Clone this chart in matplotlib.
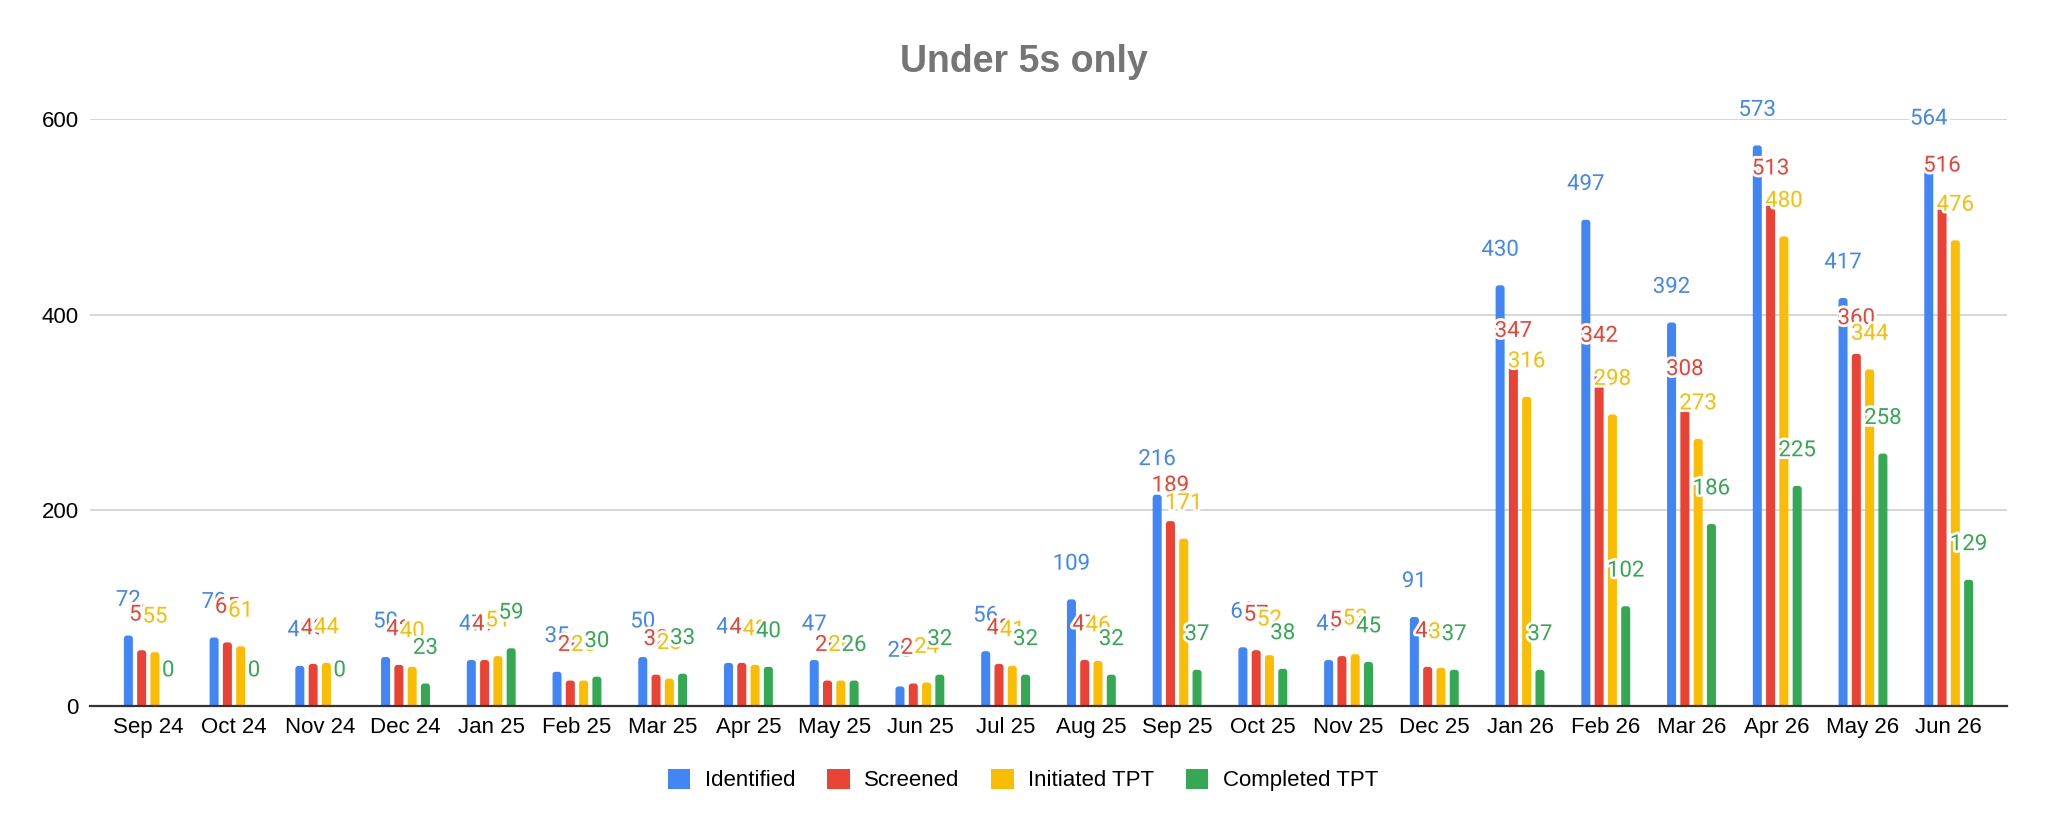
import matplotlib
matplotlib.use("Agg")
import matplotlib.pyplot as plt
import matplotlib.patheffects as pe
from matplotlib.patches import Patch, FancyBboxPatch
import numpy as np

months = ["Sep 24", "Oct 24", "Nov 24", "Dec 24", "Jan 25", "Feb 25", "Mar 25",
          "Apr 25", "May 25", "Jun 25", "Jul 25", "Aug 25", "Sep 25", "Oct 25",
          "Nov 25", "Dec 25", "Jan 26", "Feb 26", "Mar 26", "Apr 26", "May 26",
          "Jun 26"]
identified = [72, 70, 41, 50, 47, 35, 50, 44, 47, 20, 56, 109, 216, 60, 47, 91,
              430, 497, 392, 573, 417, 564]
screened = [57, 65, 43, 42, 47, 26, 32, 44, 26, 23, 43, 47, 189, 57, 51, 40,
            347, 342, 308, 513, 360, 516]
initiated = [55, 61, 44, 40, 51, 26, 28, 42, 26, 24, 41, 46, 171, 52, 53, 39,
             316, 298, 273, 480, 344, 476]
completed = [0, 0, 0, 23, 59, 30, 33, 40, 26, 32, 32, 32, 37, 38, 45, 37,
             37, 102, 186, 225, 258, 129]
series_names = ["Identified", "Screened", "Initiated TPT", "Completed TPT"]
colors = ["#4285F4", "#EA4335", "#FBBC04", "#34A853"]
yticks = [0, 200, 400, 600]
title = "Under 5s only"

W, H = 2048, 831
fig = plt.figure(figsize=(W / 100, H / 100), dpi=100)
ax = fig.add_axes([90 / W, 1 - 706 / H, (2007 - 90) / W, (706 - 119) / H])

x = np.arange(len(months))
pitch = 0.155
bw = 0.105
all_series = [identified, screened, initiated, completed]

ax.set_xlim(-0.68, len(months) - 1 + 0.68)
ax.set_ylim(0, 600)

# rounded-top bars: radius in x data units and y data units (~3 px each)
rx = 0.035
ry = 3.1
for i, (vals, col) in enumerate(zip(all_series, colors)):
    bars = ax.bar(x + (i - 1.5) * pitch, vals, width=bw, color=col, zorder=3,
                  linewidth=0)
    for rect in bars:
        h = rect.get_height()
        if h <= 0:
            rect.set_visible(False)
            continue
        fb = FancyBboxPatch((rect.get_x(), -ry), rect.get_width(), h + ry,
                            boxstyle=f"round,pad=0,rounding_size={rx}",
                            mutation_aspect=ry / rx, facecolor=col,
                            edgecolor="none", zorder=3)
        ax.add_patch(fb)
        rect.set_visible(False)

halo = [pe.withStroke(linewidth=4, foreground="white")]
for i, (vals, col) in enumerate(zip(all_series, colors)):
    for xi, v in zip(x, vals):
        ax.annotate(str(v), (xi + (i - 1.5) * pitch, v), xytext=(0, 25.3),
                    textcoords="offset points", ha="center", va="center",
                    fontsize=16, family=["Roboto", "DejaVu Sans"], color=col,
                    path_effects=halo, zorder=5, annotation_clip=False)

ax.set_yticks(yticks)
ax.set_yticklabels([str(t) for t in yticks])
ax.set_xticks(x)
ax.set_xticklabels(months)
ax.tick_params(axis="both", length=0, labelsize=16, colors="#000000")
ax.tick_params(axis="x", pad=8)
ax.tick_params(axis="y", pad=8)
for lbl in ax.get_xticklabels() + ax.get_yticklabels():
    lbl.set_family(["Liberation Sans", "DejaVu Sans"])

ax.grid(axis="y", color="#cccccc", linewidth=1.1, zorder=0)
ax.set_axisbelow(True)
for s in ["top", "right", "left"]:
    ax.spines[s].set_visible(False)
ax.spines["bottom"].set_color("#333333")
ax.spines["bottom"].set_linewidth(1.6)
ax.spines["bottom"].set_zorder(4)

fig.text(0.5, 1 - 71.7 / H, title, ha="center", va="baseline", fontsize=27,
         fontweight="bold", color="#757575",
         family=["Liberation Sans", "DejaVu Sans"])

handles = [Patch(facecolor=c, edgecolor="none", label=n)
           for c, n in zip(colors, series_names)]
leg = fig.legend(handles=handles, loc="center", bbox_to_anchor=(1023 / W, 1 - 780 / H),
                 ncol=4, frameon=False, handlelength=1.03,
                 handleheight=1.03, handletextpad=0.66, columnspacing=1.4,
                 prop={"family": ["Liberation Sans", "DejaVu Sans"], "size": 16})

fig.savefig("out.png", dpi=100, facecolor="white")
